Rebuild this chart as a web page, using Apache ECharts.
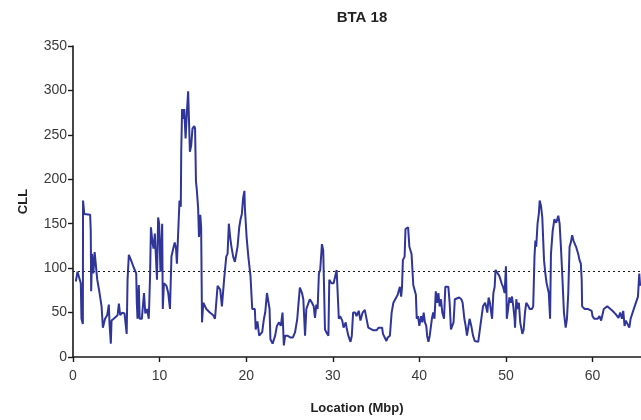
<!DOCTYPE html>
<html>
<head>
<meta charset="utf-8">
<title>BTA 18</title>
<script src="https://cdn.jsdelivr.net/npm/echarts@6/dist/echarts.min.js"></script>
<style>
  html, body { margin: 0; padding: 0; background: #ffffff; }
  #chart { width: 641px; height: 420px; }
</style>
</head>
<body>
<div id="chart"></div>
<script>
// Chromosome position (Mbp) along BTA 18
const locationMbp = [
  0.33, 0.52, 0.75, 0.9, 0.98, 1.14, 1.16, 1.3, 1.98, 2.05, 2.1, 2.2, 2.35, 2.5, 2.65, 2.8, 3.0, 3.15, 3.3, 3.45,
  3.7, 3.95, 4.14, 4.22, 4.37, 4.45, 4.7, 4.9, 5.15, 5.3, 5.45, 5.7, 5.95, 6.1, 6.2, 6.3, 6.45, 6.7, 7.0, 7.3,
  7.37, 7.45, 7.6, 7.7, 7.95, 8.2, 8.35, 8.55, 8.75, 8.9, 9.0, 9.15, 9.3, 9.45, 9.7, 9.83, 9.95, 10.1, 10.3, 10.37,
  10.5, 10.8, 11.0, 11.2, 11.37, 11.6, 11.75, 11.9, 12.0, 12.2, 12.3, 12.45, 12.5, 12.6, 12.75, 12.85, 13.0, 13.15, 13.3, 13.4,
  13.5, 13.65, 13.8, 14.0, 14.1, 14.2, 14.3, 14.45, 14.55, 14.7, 14.8, 14.9, 15.05, 15.4, 15.8, 16.2, 16.4, 16.7, 17.0, 17.2,
  17.45, 17.7, 17.85, 18.0, 18.15, 18.3, 18.5, 18.7, 18.9, 19.0, 19.1, 19.2, 19.35, 19.5, 19.65, 19.8, 19.85, 20.05, 20.25, 20.5,
  20.7, 21.0, 21.1, 21.3, 21.5, 21.7, 21.85, 22.05, 22.2, 22.4, 22.55, 22.7, 22.8, 23.05, 23.2, 23.35, 23.55, 23.8, 24.0, 24.2,
  24.35, 24.5, 24.75, 25.1, 25.4, 25.65, 25.9, 26.05, 26.2, 26.45, 26.6, 26.8, 26.95, 27.2, 27.35, 27.6, 27.8, 27.95, 28.1, 28.25,
  28.4, 28.55, 28.75, 28.9, 28.95, 29.1, 29.25, 29.5, 29.6, 29.85, 30.1, 30.3, 30.45, 30.6, 30.7, 30.85, 31.1, 31.25, 31.5, 31.6,
  31.8, 32.05, 32.2, 32.35, 32.6, 32.75, 33.0, 33.2, 33.45, 33.7, 33.9, 34.1, 34.3, 34.7, 34.9, 35.05, 35.3, 35.7, 35.8, 36.2,
  36.35, 36.6, 36.8, 37.0, 37.2, 37.5, 37.75, 37.9, 38.0, 38.1, 38.3, 38.4, 38.7, 38.85, 39.1, 39.3, 39.6, 39.7, 39.85, 40.0,
  40.2, 40.35, 40.5, 40.65, 40.8, 40.9, 41.05, 41.2, 41.45, 41.6, 41.75, 41.9, 42.05, 42.2, 42.35, 42.5, 42.65, 42.85, 43.0, 43.15,
  43.35, 43.5, 43.65, 43.8, 43.95, 44.1, 44.25, 44.6, 44.85, 45.0, 45.2, 45.35, 45.5, 45.65, 45.8, 46.0, 46.2, 46.4, 46.6, 46.8,
  46.95, 47.1, 47.35, 47.6, 47.7, 47.85, 48.0, 48.15, 48.4, 48.55, 48.7, 48.8, 48.95, 49.25, 49.5, 49.7, 49.85, 50.0, 50.05, 50.1,
  50.25, 50.4, 50.55, 50.7, 50.85, 51.0, 51.05, 51.2, 51.35, 51.5, 51.65, 51.9, 52.05, 52.2, 52.35, 52.6, 52.75, 53.0, 53.15, 53.3,
  53.4, 53.5, 53.65, 53.8, 53.9, 54.05, 54.2, 54.4, 54.55, 54.7, 54.95, 55.1, 55.2, 55.4, 55.6, 55.8, 56.05, 56.2, 56.35, 56.5,
  56.7, 56.9, 57.05, 57.2, 57.35, 57.5, 57.65, 57.8, 57.95, 58.1, 58.35, 58.5, 58.65, 58.75, 58.8, 59.1, 59.5, 59.9, 60.0, 60.2,
  60.4, 60.6, 60.8, 61.0, 61.15, 61.3, 61.7, 61.9, 62.3, 62.7, 63.0, 63.2, 63.4, 63.55, 63.7, 63.85, 64.05, 64.25, 64.4, 64.55,
  64.8, 65.0, 65.25, 65.4, 65.5
];

// CLL statistic at each position
const cll = [
  85, 96, 98, 83, 43, 37, 176, 161, 160, 142, 74, 116, 94, 118, 116, 87, 76, 74, 57, 33,
  43, 47, 59, 37, 15, 41, 43, 45, 47, 60, 47, 50, 49, 50, 26, 87, 115, 109, 101, 94,
  61, 43, 81, 43, 43, 72, 49, 54, 43, 91, 146, 131, 122, 139, 87, 157, 150, 96, 150, 54,
  83, 80, 72, 54, 113, 123, 129, 122, 105, 103, 176, 169, 231, 279, 268, 279, 246, 275, 299, 265,
  231, 238, 257, 260, 257, 198, 188, 168, 135, 160, 146, 39, 61, 54, 50, 47, 43, 80, 76, 57,
  87, 113, 116, 150, 135, 124, 113, 107, 105, 124, 124, 146, 155, 161, 179, 187, 168, 135, 113, 91,
  54, 54, 31, 40, 24, 22, 28, 43, 50, 72, 70, 54, 20, 15, 13, 24, 35, 39, 35, 50,
  13, 24, 24, 22, 22, 28, 43, 61, 78, 72, 65, 24, 54, 61, 65, 61, 57, 44, 59, 54,
  94, 98, 127, 120, 98, 31, 28, 24, 87, 83, 83, 82, 98, 98, 43, 46, 41, 33, 39, 33,
  24, 17, 24, 50, 50, 46, 52, 41, 50, 53, 52, 33, 32, 30, 28, 30, 33, 33, 26, 18,
  22, 24, 50, 61, 63, 70, 79, 68, 79, 109, 113, 144, 146, 124, 116, 81, 70, 43, 46, 35,
  46, 39, 50, 39, 35, 24, 17, 24, 43, 50, 43, 74, 61, 72, 57, 65, 50, 43, 79, 81,
  79, 61, 31, 35, 39, 65, 67, 67, 65, 61, 43, 35, 24, 22, 43, 35, 24, 18, 18, 17,
  28, 28, 57, 61, 57, 50, 67, 61, 43, 72, 79, 98, 96, 91, 83, 78, 72, 102, 79, 43,
  54, 67, 61, 68, 57, 43, 33, 65, 54, 61, 39, 26, 31, 50, 61, 57, 54, 54, 57, 113,
  131, 124, 150, 161, 176, 170, 157, 109, 94, 83, 72, 43, 116, 142, 155, 151, 159, 150, 124, 94,
  50, 33, 43, 72, 124, 129, 137, 131, 133, 124, 116, 109, 105, 87, 57, 54, 54, 52, 46, 43,
  44, 43, 46, 41, 43, 54, 57, 55, 52, 48, 44, 50, 43, 52, 35, 41, 39, 33, 43, 41,
  55, 57, 68, 94, 80
];

// Significance threshold drawn as a dotted reference line
const threshold = 96;

const chartTitle = 'BTA 18';
const xAxisTitle = 'Location (Mbp)';
const yAxisTitle = 'CLL';

const fontFamily = '"Liberation Sans", Arial, Helvetica, sans-serif';
const points = locationMbp.map((x, i) => [x, cll[i]]);

const chart = echarts.init(document.getElementById('chart'), null, { renderer: 'canvas' });

chart.setOption({
  animation: false,
  backgroundColor: '#ffffff',
  title: {
    text: chartTitle,
    left: 357,
    top: 5,
    textAlign: 'center',
    textStyle: { fontFamily, fontSize: 15, fontWeight: 'bold', color: '#222' }
  },
  grid: { left: 73, right: 0, top: 46, bottom: 58, containLabel: false },
  xAxis: {
    type: 'value',
    min: 0,
    max: 65.6,
    interval: 10,
    name: xAxisTitle,
    nameLocation: 'middle',
    nameGap: 45,
    nameTextStyle: { fontFamily, fontSize: 13, fontWeight: 'bold', color: '#222' },
    axisLine: { show: true, onZero: false, lineStyle: { color: '#1a1a1a', width: 1.6 } },
    axisTick: { show: true, length: 5, lineStyle: { color: '#1a1a1a', width: 1.4 } },
    axisLabel: { fontFamily, fontSize: 14, color: '#3a3a3a', margin: 12, showMaxLabel: false },
    splitLine: { show: false }
  },
  yAxis: {
    type: 'value',
    min: 0,
    max: 350,
    interval: 50,
    name: yAxisTitle,
    nameLocation: 'middle',
    nameGap: 43,
    nameRotate: 90,
    nameTextStyle: { fontFamily, fontSize: 13, fontWeight: 'bold', color: '#222' },
    axisLine: { show: true, lineStyle: { color: '#1a1a1a', width: 1.6 } },
    axisTick: { show: true, length: 5, lineStyle: { color: '#1a1a1a', width: 1.4 } },
    axisLabel: { fontFamily, fontSize: 14, color: '#3a3a3a', margin: 6 },
    splitLine: { show: false }
  },
  series: [{
    type: 'line',
    data: points,
    showSymbol: false,
    symbol: 'none',
    clip: true,
    lineStyle: { color: '#2f3599', width: 2 },
    z: 3,
    markLine: {
      silent: true,
      symbol: ['none', 'none'],
      label: { show: false },
      lineStyle: { color: '#1a1a1a', type: [2, 3], width: 1.1 },
      data: [{ yAxis: threshold }],
      z: 2
    }
  }]
});
</script>
</body>
</html>
